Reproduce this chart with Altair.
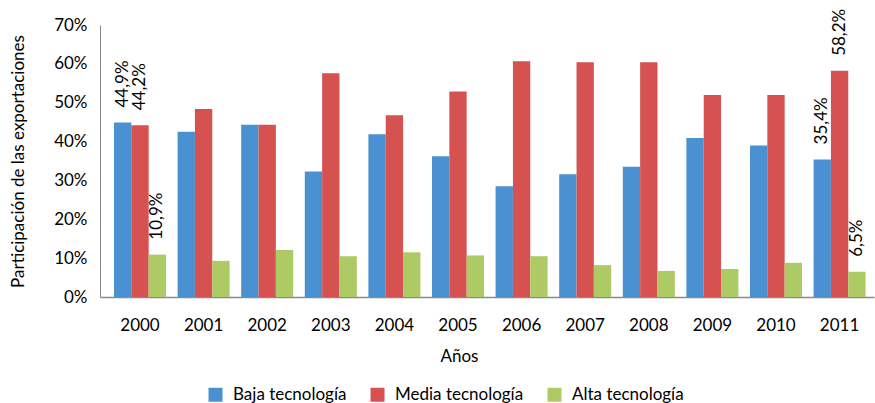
import altair as alt
import pandas as pd

# Export share by technology level, 2000-2011 (percent)
anios = ["2000", "2001", "2002", "2003", "2004", "2005",
         "2006", "2007", "2008", "2009", "2010", "2011"]
series = ["Baja tecnología", "Media tecnología", "Alta tecnología"]
colores = ["#4A91D1", "#D55250", "#ADCA65"]

baja = [44.9, 42.5, 44.3, 32.3, 41.9, 36.2, 28.5, 31.6, 33.5, 40.9, 39.0, 35.4]
media = [44.2, 48.4, 44.3, 57.6, 46.8, 52.9, 60.7, 60.4, 60.4, 52.0, 52.0, 58.2]
alta = [10.9, 9.3, 12.1, 10.5, 11.5, 10.7, 10.5, 8.2, 6.7, 7.2, 8.8, 6.5]
y_ticks = [0, 10, 20, 30, 40, 50, 60, 70]

# years whose bars carry a value label
anios_etiquetados = ["2000", "2011"]

FONT = "Lato"

rows = []
for serie, valores in zip(series, [baja, media, alta]):
    for anio, v in zip(anios, valores):
        etiqueta = f"{v:.1f}".replace(".", ",") + "%" if anio in anios_etiquetados else ""
        rows.append({"anio": anio, "serie": serie, "valor": v, "etiqueta": etiqueta})
df = pd.DataFrame(rows)

x_enc = alt.X(
    "anio:N",
    sort=anios,
    scale=alt.Scale(paddingInner=0.182, paddingOuter=0.176, align=0.625),
    axis=alt.Axis(
        title="Años",
        labelAngle=0,
        labelFont=FONT,
        labelFontSize=17,
        labelColor="#000000",
        labelPadding=20,
        ticks=False,
        tickSize=0,
        domainColor="#8a8a8a",
        domainWidth=1.6,
        titleFont=FONT,
        titleFontSize=17,
        titleFontWeight="normal",
        titleColor="#000000",
        titleX=359,
        titleY=51,
        titleAlign="center",
        titleBaseline="top",
    ),
)
xo_enc = alt.XOffset("serie:N", sort=series, scale=alt.Scale(paddingInner=0, paddingOuter=0))

y_enc = alt.Y(
    "valor:Q",
    scale=alt.Scale(domain=[0, 70], nice=False),
    axis=alt.Axis(
        title="Participación de las exportaciones",
        values=y_ticks,
        labelExpr="datum.value + '%'",
        labelOverlap=False,
        labelBound=False,
        labelFlush=False,
        labelFont=FONT,
        labelFontSize=17,
        labelColor="#000000",
        labelPadding=13,
        ticks=False,
        tickSize=0,
        grid=False,
        domainColor="#8a8a8a",
        domainWidth=1,
        titleFont=FONT,
        titleFontSize=17,
        titleFontWeight="normal",
        titleColor="#000000",
        titleX=-82,
        titleY=136,
        titleAngle=-90,
        titleAlign="center",
        titleBaseline="middle",
    ),
)

bars = alt.Chart(df).mark_bar().encode(
    x=x_enc,
    xOffset=xo_enc,
    y=y_enc,
    color=alt.Color(
        "serie:N",
        sort=series,
        scale=alt.Scale(domain=series, range=colores),
        legend=alt.Legend(
            title=None,
            orient="none",
            direction="horizontal",
            legendX=107,
            legendY=361,
            symbolType="square",
            symbolSize=196,
            symbolStrokeWidth=0,
            symbolOpacity=1,
            labelFont=FONT,
            labelFontSize=17,
            labelColor="#000000",
            labelOffset=9,
            columnPadding=22,
            padding=0,
        ),
    ),
)

# rotated value labels; dx runs along the text, i.e. upward from the bar top
labels = alt.Chart(df).transform_filter(
    alt.datum.etiqueta != ""
).mark_text(
    angle=270,
    align="left",
    baseline="middle",
    dx=15,
    font=FONT,
    fontSize=17,
    color="#000000",
).encode(
    x=x_enc,
    xOffset=xo_enc,
    y=y_enc,
    text="etiqueta:N",
)

chart = (
    alt.layer(bars, labels)
    .properties(
        width=774,
        height=272,
        autosize=alt.AutoSizeParams(type="none"),
        padding={"left": 100, "top": 25, "right": 1, "bottom": 106},
        background="#ffffff",
    )
    .configure_view(stroke=None)
)

chart.save("out.html", embed_options={"renderer": "svg", "actions": False})
